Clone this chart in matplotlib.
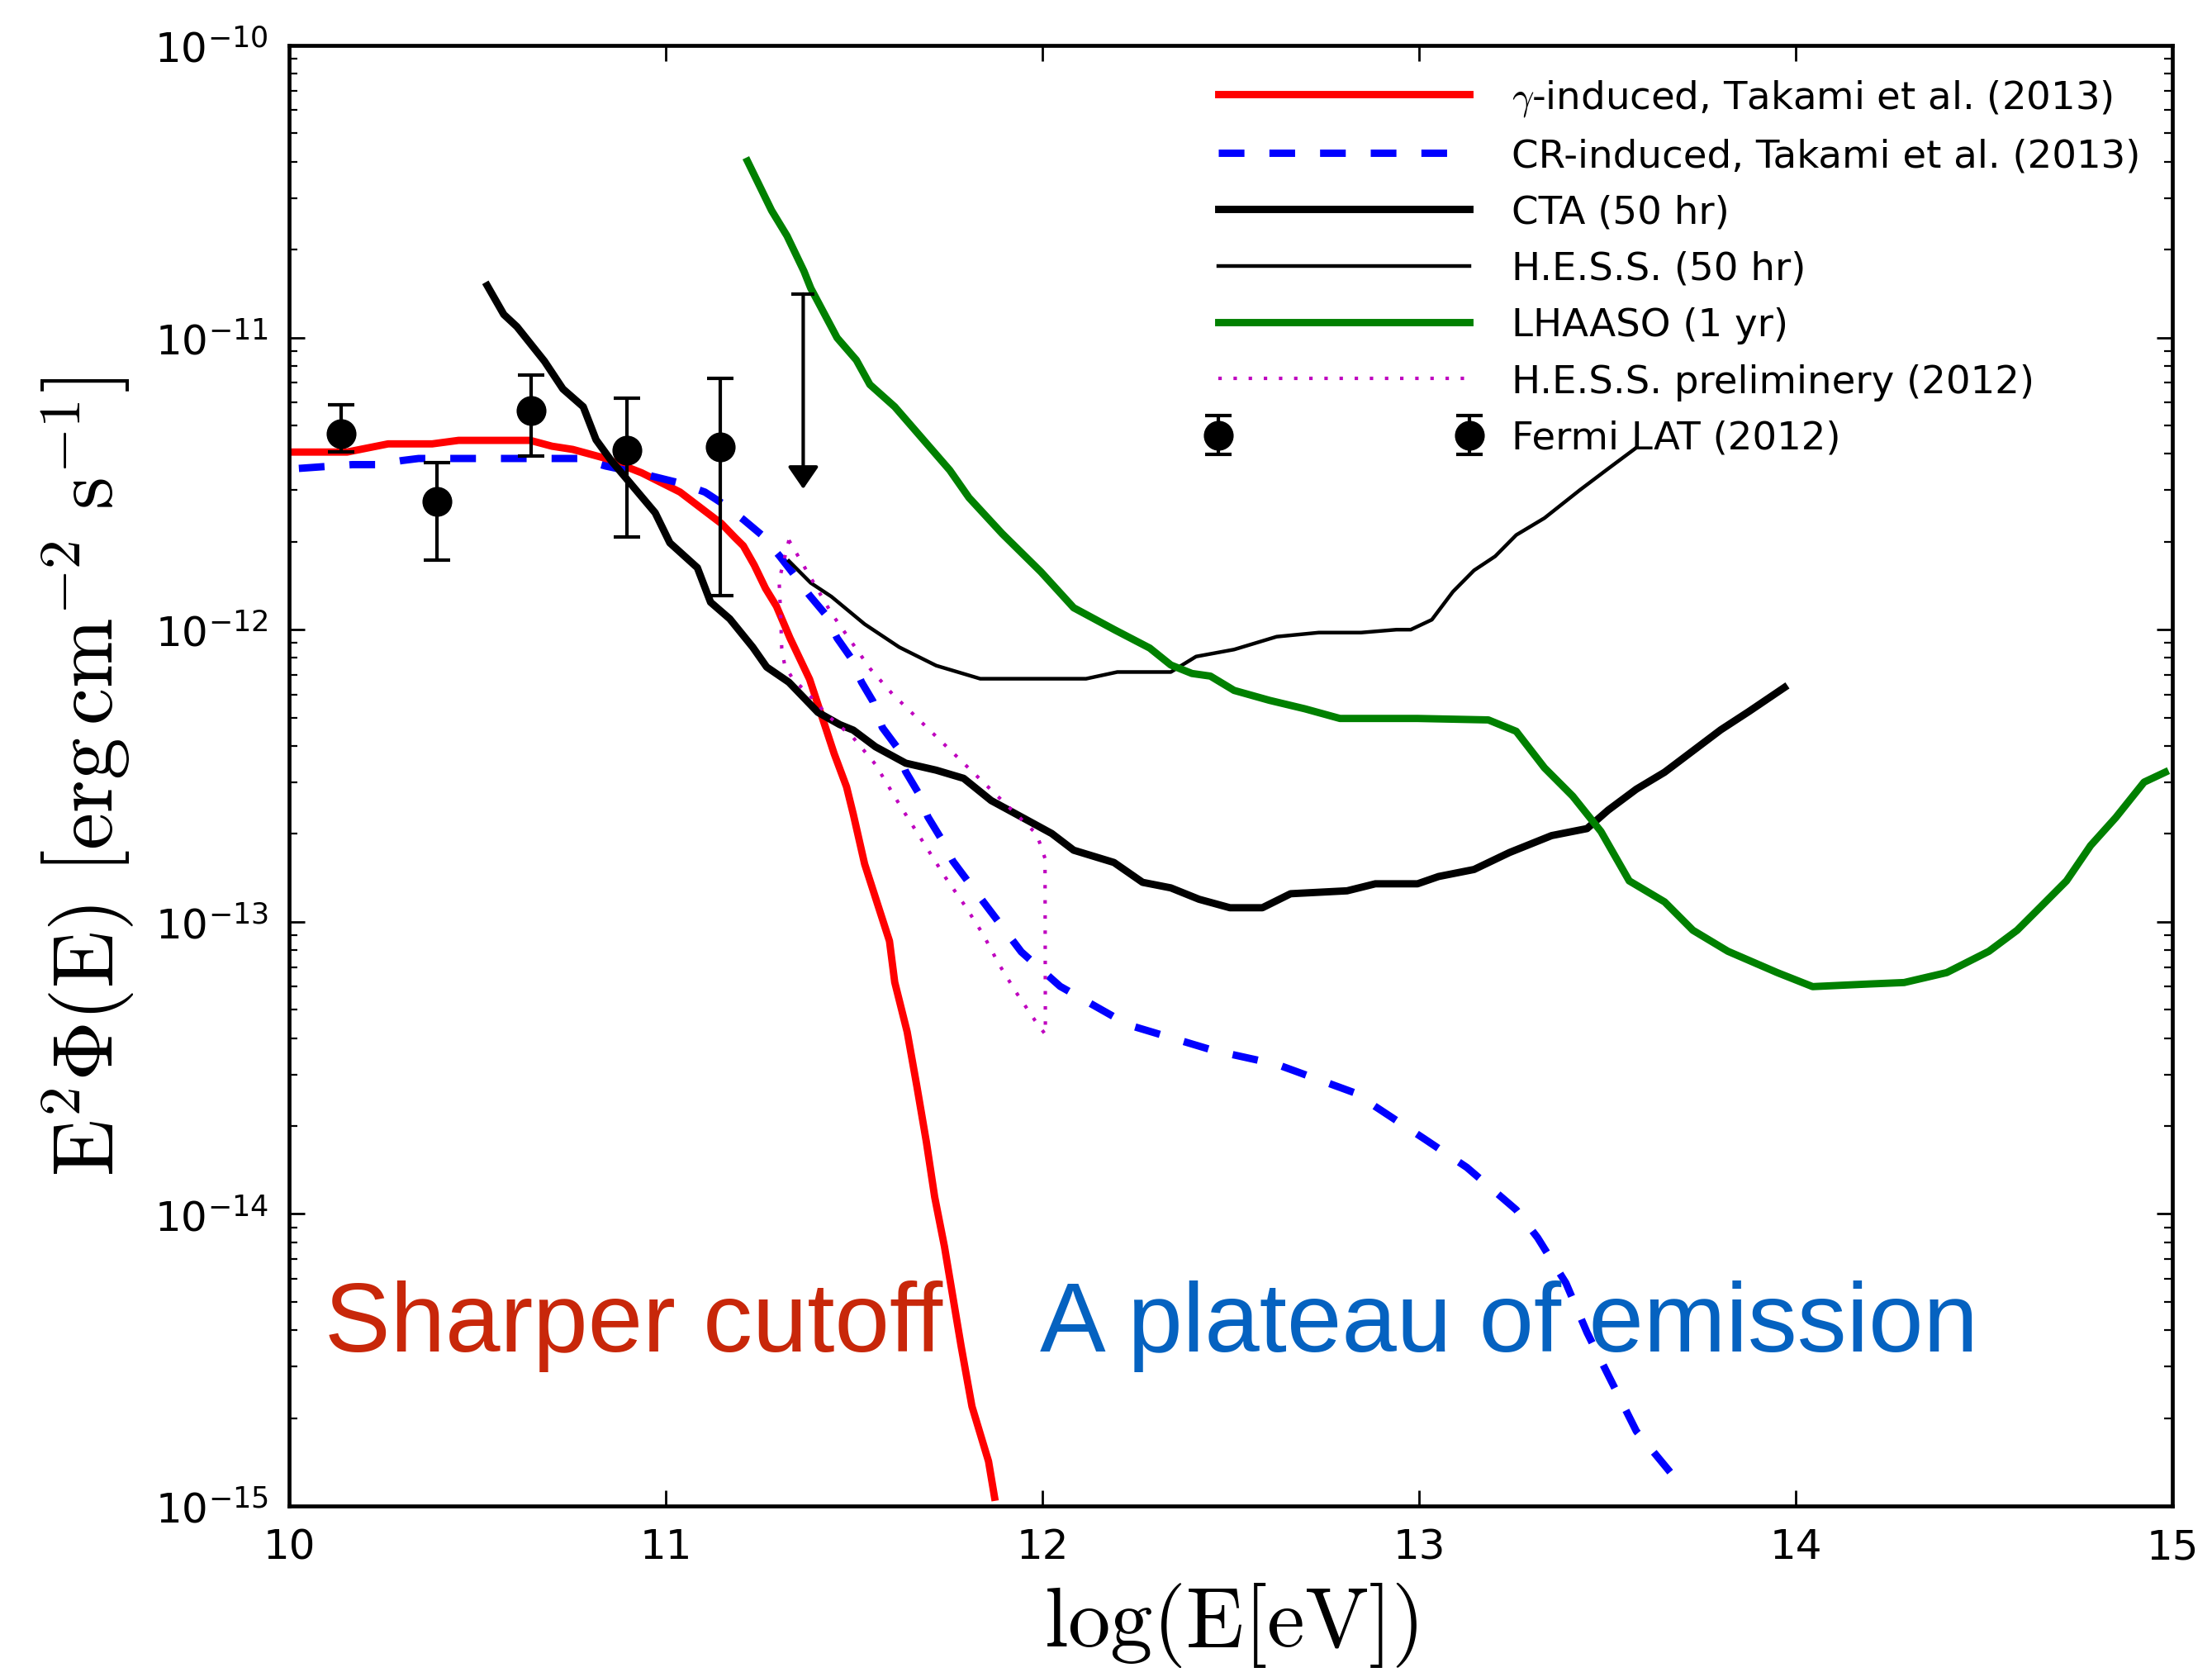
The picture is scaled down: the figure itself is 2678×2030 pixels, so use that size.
import numpy as np
import matplotlib
matplotlib.use("Agg")
import matplotlib.pyplot as plt
from matplotlib.ticker import FixedLocator, LogLocator, FuncFormatter, NullFormatter

plt.rcParams["mathtext.fontset"] = "cm"
plt.rcParams["font.family"] = "DejaVu Sans"

# all curves: x = log10(E/eV), y = log10(E^2 Phi / erg cm^-2 s^-1)
gam_x = [10.00, 10.154, 10.263, 10.380, 10.450, 10.640, 10.698, 10.753, 10.833, 10.936,
         11.038, 11.096, 11.148, 11.184, 11.206, 11.235, 11.265, 11.294, 11.330, 11.382,
         11.411, 11.447, 11.480, 11.498, 11.528, 11.561, 11.594, 11.608, 11.641, 11.667,
         11.692, 11.714, 11.740, 11.784, 11.813, 11.857, 11.873]
gam_y = [-11.392, -11.392, -11.364, -11.364, -11.352, -11.352, -11.372, -11.383, -11.411, -11.463,
         -11.529, -11.586, -11.637, -11.685, -11.713, -11.779, -11.859, -11.920, -12.029, -12.170,
         -12.283, -12.424, -12.538, -12.632, -12.802, -12.934, -13.066, -13.207, -13.377, -13.565,
         -13.754, -13.942, -14.112, -14.451, -14.659, -14.847, -14.970]

cr_x = [10.026, 10.168, 10.234, 10.300, 10.344, 10.768, 10.841, 10.943, 11.031, 11.104,
        11.155, 11.206, 11.254, 11.301, 11.338, 11.382, 11.425, 11.455, 11.491, 11.520,
        11.550, 11.575, 11.616, 11.637, 11.674, 11.696, 11.732, 11.762, 11.806, 11.864,
        11.944, 12.047, 12.228, 12.453, 12.622, 12.828, 13.015, 13.127, 13.258, 13.315,
        13.390, 13.446, 13.502, 13.577, 13.670]
cr_y = [-11.448, -11.435, -11.435, -11.421, -11.414, -11.414, -11.440, -11.468, -11.496, -11.529,
        -11.572, -11.623, -11.675, -11.746, -11.807, -11.883, -11.949, -12.029, -12.095, -12.180,
        -12.245, -12.335, -12.406, -12.486, -12.566, -12.641, -12.717, -12.792, -12.868, -12.967,
        -13.103, -13.221, -13.353, -13.440, -13.488, -13.585, -13.744, -13.841, -13.986, -14.082,
        -14.237, -14.406, -14.551, -14.744, -14.889]

cta_x = [10.526, 10.570, 10.605, 10.678, 10.727, 10.781, 10.815, 10.855, 10.972, 11.011,
         11.084, 11.119, 11.170, 11.231, 11.268, 11.327, 11.404, 11.462, 11.498, 11.557,
         11.637, 11.718, 11.791, 11.864, 11.944, 12.025, 12.083, 12.190, 12.266, 12.341,
         12.416, 12.498, 12.584, 12.659, 12.809, 12.884, 12.996, 13.052, 13.146, 13.240,
         13.352, 13.446, 13.502, 13.577, 13.652, 13.727, 13.801, 13.876, 13.970]
cta_y = [-10.822, -10.921, -10.963, -11.081, -11.176, -11.237, -11.350, -11.421, -11.600, -11.703,
         -11.788, -11.906, -11.963, -12.060, -12.128, -12.180, -12.283, -12.325, -12.344, -12.401,
         -12.457, -12.481, -12.509, -12.585, -12.641, -12.698, -12.755, -12.797, -12.865, -12.884,
         -12.923, -12.952, -12.952, -12.904, -12.894, -12.870, -12.870, -12.845, -12.821, -12.763,
         -12.705, -12.681, -12.618, -12.546, -12.488, -12.415, -12.343, -12.280, -12.198]

hess_x = [11.327, 11.385, 11.440, 11.528, 11.620, 11.718, 11.835, 12.116, 12.199, 12.341,
          12.408, 12.509, 12.622, 12.734, 12.846, 12.940, 12.978, 13.034, 13.090, 13.146,
          13.202, 13.258, 13.333, 13.427, 13.502, 13.577]
hess_y = [-11.765, -11.840, -11.887, -11.981, -12.060, -12.123, -12.168, -12.168, -12.145, -12.145,
          -12.092, -12.068, -12.024, -12.010, -12.010, -12.000, -12.000, -11.966, -11.870, -11.797,
          -11.749, -11.676, -11.618, -11.522, -11.449, -11.377]

lhaaso_x = [11.217, 11.281, 11.322, 11.367, 11.385, 11.455, 11.506, 11.542, 11.608, 11.754,
            11.805, 11.893, 11.996, 12.083, 12.191, 12.285, 12.341, 12.397, 12.446, 12.509,
            12.603, 12.697, 12.790, 12.996, 13.184, 13.258, 13.333, 13.408, 13.483, 13.558,
            13.652, 13.727, 13.820, 13.951, 14.045, 14.195, 14.288, 14.401, 14.513, 14.588,
            14.644, 14.719, 14.783, 14.850, 14.925, 14.981]
lhaaso_y = [-10.396, -10.565, -10.652, -10.773, -10.831, -11.001, -11.077, -11.161, -11.237, -11.454,
            -11.548, -11.671, -11.802, -11.925, -12.000, -12.063, -12.121, -12.150, -12.159, -12.208,
            -12.242, -12.271, -12.304, -12.304, -12.309, -12.348, -12.473, -12.570, -12.691, -12.860,
            -12.932, -13.029, -13.101, -13.174, -13.222, -13.213, -13.208, -13.174, -13.101, -13.029,
            -12.957, -12.860, -12.739, -12.643, -12.522, -12.488]

# H.E.S.S. preliminary butterfly (closed outline)
bfly_x = [11.327, 11.440, 11.543, 11.601, 11.857, 11.985, 12.007, 12.008, 11.981, 11.931,
          11.885, 11.842, 11.795, 11.743, 11.720, 11.624, 11.556, 11.498, 11.431, 11.371,
          11.338, 11.316, 11.308, 11.305, 11.301, 11.327]
bfly_y = [-11.694, -11.944, -12.134, -12.219, -12.540, -12.700, -12.783, -13.386, -13.339, -13.243,
          -13.146, -13.042, -12.946, -12.849, -12.802, -12.606, -12.460, -12.370, -12.295, -12.210,
          -12.170, -12.123, -12.064, -11.949, -11.831, -11.694]

# Fermi LAT points (value, upper and lower end of error bar)
lat_x = [10.138, 10.393, 10.642, 10.896, 11.145]
lat_y = [4.69e-12, 2.74e-12, 5.61e-12, 4.12e-12, 4.23e-12]
lat_hi = [5.89e-12, 3.73e-12, 7.44e-12, 6.21e-12, 7.23e-12]
lat_lo = [4.06e-12, 1.73e-12, 3.92e-12, 2.08e-12, 1.31e-12]
# upper limit
ul_x = 11.365
ul_top = 1.41e-11
ul_tip = 3.03e-12

xticks = [10, 11, 12, 13, 14, 15]
yticks = [1e-15, 1e-14, 1e-13, 1e-12, 1e-11, 1e-10]


def p(v):
    return 10.0 ** np.array(v)


fig = plt.figure(figsize=(13.39, 10.155), dpi=200)
ax = fig.add_axes([0.13069, 0.10192, 0.85138, 0.87051])

l_gam, = ax.plot(gam_x, p(gam_y), color="red", lw=3.2, label=r"$\gamma$-induced, Takami et al. (2013)")
l_cr, = ax.plot(cr_x, p(cr_y), color="blue", lw=3.2, dashes=(3.5, 3.4),
                label="CR-induced, Takami et al. (2013)")
l_cta, = ax.plot(cta_x, p(cta_y), color="black", lw=3.2, label="CTA (50 hr)")
l_hess, = ax.plot(hess_x, p(hess_y), color="black", lw=1.6, label="H.E.S.S. (50 hr)")
l_lh, = ax.plot(lhaaso_x, p(lhaaso_y), color="green", lw=3.2, label="LHAASO (1 yr)")
l_bf, = ax.plot(bfly_x, p(bfly_y), color="m", lw=1.5, dashes=(1, 3.4),
                label="H.E.S.S. preliminery (2012)")

lat_y = np.array(lat_y)
yerr = [lat_y - np.array(lat_lo), np.array(lat_hi) - lat_y]
eb = ax.errorbar(lat_x, lat_y, yerr=yerr, fmt="o", color="black", ms=12,
                 elinewidth=1.5, capsize=5.6, capthick=1.5, label="Fermi LAT (2012)")

# upper limit arrow
ax.annotate("", xy=(ul_x, ul_tip), xytext=(ul_x, ul_top),
            arrowprops=dict(arrowstyle="-|>,head_length=0.83,head_width=0.57",
                            mutation_scale=10, lw=1.5, color="black",
                            shrinkA=0, shrinkB=0))
ax.plot([ul_x], [ul_top], marker="_", ms=10, mew=1.5, color="black")

ax.text(10.094, 10 ** -14.468, "Sharper cutoff", color="#C8270A", fontsize=43,
        family="Liberation Sans", ha="left", va="baseline")
ax.text(11.993, 10 ** -14.468, "A plateau of emission", color="#0562C0", fontsize=43,
        family="Liberation Sans", ha="left", va="baseline")

ax.set_yscale("log")
ax.set_xlim(10, 15)
ax.set_ylim(1e-15, 1e-10)
ax.xaxis.set_major_locator(FixedLocator(xticks))
ax.yaxis.set_major_locator(FixedLocator(yticks))
ax.yaxis.set_minor_locator(LogLocator(base=10, subs=np.arange(2, 10)))
ax.yaxis.set_minor_formatter(NullFormatter())
ax.yaxis.set_major_formatter(FuncFormatter(
    lambda v, _: r"$\mathregular{10^{%d}}$" % round(np.log10(v))))

ax.tick_params(which="both", direction="in", top=True, right=True, labelsize=18, pad=9)
ax.tick_params(which="major", length=7, width=1.0)
ax.tick_params(which="minor", length=3.5, width=0.8)
for s in ax.spines.values():
    s.set_linewidth(1.7)

ax.set_xlabel(r"$\mathrm{log(E[eV])}$", fontsize=37, labelpad=6)
ax.set_ylabel(r"$\mathrm{E^2\Phi(E)}\ \left[\mathrm{erg\,cm^{-2}\ s^{-1}}\right]$",
              fontsize=36.5, labelpad=8)

ax.legend(handles=[l_gam, l_cr, l_cta, l_hess, l_lh, l_bf, eb], loc="upper right",
          bbox_to_anchor=(0.983, 0.978), frameon=False, fontsize=16.8, numpoints=2,
          handlelength=7.1, handletextpad=0.8, labelspacing=0.5,
          borderpad=0, borderaxespad=0)

fig.savefig("out.png", dpi=200)
